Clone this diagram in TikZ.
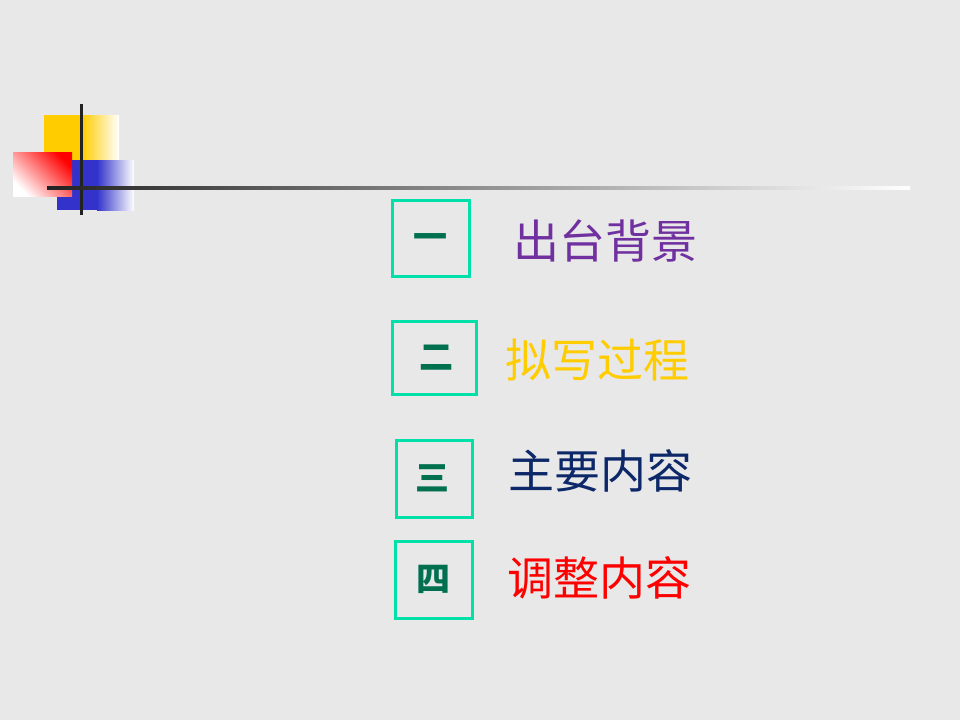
\documentclass[tikz,border=0pt]{standalone}
\usepackage{fontspec}
\newfontfamily\cjk{Noto Sans CJK SC}
\definecolor{slidebg}{HTML}{E8E8E8}
\definecolor{boxgreen}{HTML}{00E0A8}
\definecolor{numgreen}{HTML}{00704E}
\definecolor{tpurple}{HTML}{7030A0}
\definecolor{tyellow}{HTML}{FFCC00}
\definecolor{tnavy}{HTML}{0D2868}
\definecolor{tred}{HTML}{FF0000}
\definecolor{dblue}{HTML}{3333CC}
\definecolor{dyellow}{HTML}{FFCC00}
\definecolor{barline}{HTML}{222222}
\tikzset{
  numbox/.style={draw=boxgreen, line width=3pt, inner sep=0pt},
  numtext/.style={text=numgreen, font=\cjk\bfseries\fontsize{34}{36}\selectfont},
  titletext/.style={anchor=west, inner sep=0pt, font=\cjk\fontsize{46}{50}\selectfont}
}
\begin{document}
\begin{tikzpicture}[x=1pt, y=-1pt]
	\fill[slidebg] (0,0) rectangle (960,720);
	\useasboundingbox (0,0) rectangle (960,720);
	% corner decoration
	\fill[dyellow] (44,115) rectangle (82,190);
	\shade[left color=dyellow, right color=white] (82,115) rectangle (119,190);
	\fill[dblue] (57,160) rectangle (97,210);
	\shade[left color=dblue, right color=white] (97,160) rectangle (134,210);
	\shade[shading=axis, top color=red, bottom color=white, shading angle=-45] (13,152) rectangle (72,196);
	\fill[barline] (79.5,104) rectangle (82.5,215);
	\shade[left color=barline, right color=white] (47,186.5) rectangle (910,189.5);
	% items
	\node[numbox, minimum width=77, minimum height=76] (b1) at (430.5,238) {};
	\node[numbox, minimum width=84, minimum height=73] (b2) at (434,357.5) {};
	\node[numbox, minimum width=76, minimum height=77] (b3) at (434,478.5) {};
	\node[numbox, minimum width=77, minimum height=77] (b4) at (433.5,579.5) {};
	\node[numtext] (n1) at ([yshift=-4]b1.center) {一};
	\node[numtext] (n2) at ([xshift=2]b2.center) {二};
	\node[numtext] (n3) at ([xshift=-2]b3.center) {三};
	\node[numtext] (n4) at (b4.center) {四};
	\node[titletext, text=tpurple] (t1) at (513,241) {出台背景};
	\node[titletext, text=tyellow] (t2) at (505,360) {拟写过程};
	\node[titletext, text=tnavy] (t3) at (508,471) {主要内容};
	\node[titletext, text=tred] (t4) at (507,578) {调整内容};
\end{tikzpicture}
\end{document}
